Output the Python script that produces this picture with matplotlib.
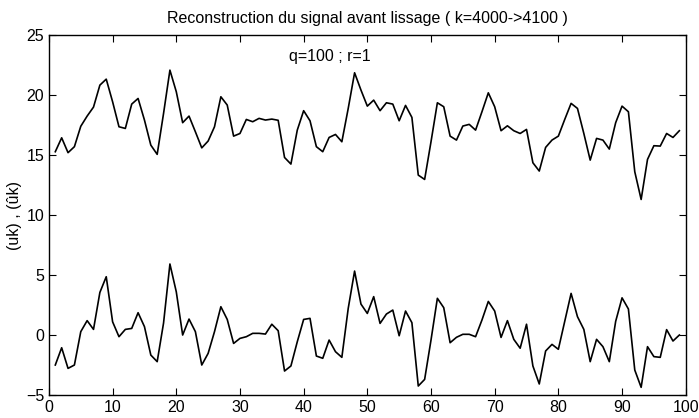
import matplotlib
matplotlib.use('Agg')
import matplotlib.pyplot as plt
import numpy as np

# indices k (relative), 1..99
k = np.arange(1, 100)

# signal reconstruit (courbe du haut)
u_hat = [15.28, 16.44, 15.2, 15.7, 17.4, 18.25, 19.0, 20.83, 21.33, 19.44,
         17.36, 17.22, 19.25, 19.72, 17.92, 15.83, 15.06, 18.47, 22.08, 20.28,
         17.7, 18.25, 16.94, 15.6, 16.17, 17.36, 19.86, 19.17, 16.58, 16.8,
         17.97, 17.78, 18.06, 17.92, 18.0, 17.9, 14.8, 14.25, 17.08, 18.7,
         17.86, 15.7, 15.28, 16.47, 16.72, 16.11, 18.89, 21.86, 20.42, 19.08,
         19.58, 18.7, 19.36, 19.25, 17.86, 19.14, 18.14, 13.33, 12.97, 16.11,
         19.36, 19.03, 16.58, 16.25, 17.42, 17.56, 17.08, 18.61, 20.19, 19.03,
         17.03, 17.44, 17.03, 16.8, 17.14, 14.36, 13.67, 15.64, 16.25, 16.58,
         17.97, 19.31, 18.89, 16.8, 14.58, 16.39, 16.25, 15.5, 17.7, 19.08,
         18.61, 13.61, 11.3, 14.64, 15.78, 15.75, 16.8, 16.47, 17.03]

# signal original (courbe du bas)
u = [-2.5, -1.06, -2.78, -2.5, 0.28, 1.2, 0.47, 3.55, 4.86, 1.1,
     -0.14, 0.47, 0.55, 1.86, 0.7, -1.67, -2.22, 1.0, 5.92, 3.6,
     0.0, 1.33, 0.28, -2.5, -1.53, 0.28, 2.36, 1.3, -0.7, -0.28,
     -0.14, 0.14, 0.14, 0.08, 0.9, 0.36, -3.0, -2.58, -0.56, 1.3,
     1.39, -1.75, -1.94, -0.42, -1.39, -1.86, 2.22, 5.33, 2.58, 1.8,
     3.2, 0.97, 1.75, 2.08, -0.06, 2.0, 1.03, -4.25, -3.7, -0.42,
     3.06, 2.28, -0.64, -0.19, 0.06, 0.06, -0.14, 1.25, 2.8, 2.0,
     -0.2, 1.2, -0.36, -1.1, 0.9, -2.58, -4.08, -1.33, -0.78, -1.19,
     1.14, 3.47, 1.53, 0.47, -2.22, -0.36, -0.97, -2.22, 1.14, 3.1,
     2.17, -2.92, -4.36, -0.97, -1.8, -1.86, 0.45, -0.5, 0.0]

plt.rcParams['font.family'] = ['Liberation Sans', 'DejaVu Sans']

fig = plt.figure(figsize=(6.99, 4.18), dpi=100)
ax = fig.add_axes([0.070, 0.055, 0.911, 0.861])

ax.plot(k, u_hat, color='black', linewidth=1.2)
ax.plot(k, u, color='black', linewidth=1.2)

ax.set_xlim(0, 100)
ax.set_ylim(-5, 25)
ax.set_xticks(np.arange(0, 101, 10))
ax.set_yticks(np.arange(-5, 26, 5))
ax.tick_params(direction='in', top=True, right=True, length=5, labelsize=11.5)
for s in ax.spines.values():
    s.set_linewidth(1.0)

ax.set_title('Reconstruction du signal avant lissage ( k=4000->4100 )', fontsize=11.5, pad=9)
ax.set_ylabel('(uk) , (ûk)', fontsize=11.5, labelpad=3)
ax.text(37.7, 23.25, 'q=100 ; r=1', fontsize=11.5, va='center', ha='left')

fig.savefig('out.png', dpi=100)
